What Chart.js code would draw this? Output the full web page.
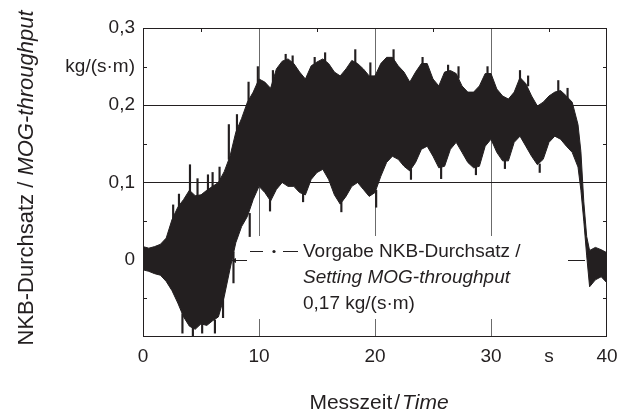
<!DOCTYPE html>
<html>
<head>
<meta charset="utf-8">
<script src="https://cdn.jsdelivr.net/npm/chart.js@4.4.0/dist/chart.umd.min.js"></script>
<style>
  html, body { margin: 0; padding: 0; background: #fff; }
  #wrap { width: 633px; height: 412px; }
</style>
</head>
<body>
<div id="wrap"><canvas id="flowChart"></canvas></div>
<script>
// Messzeit in s
var times = [0, 0.5, 1, 1.5, 2, 2.5, 3, 3.5, 4, 4.5, 5, 5.5, 6, 6.5, 7, 7.5, 8, 8.5, 9, 9.5,
  10, 10.5, 11, 11.5, 12, 12.5, 13, 13.5, 14, 14.5, 15, 15.5, 16, 16.5, 17, 17.5, 18, 18.5, 19, 19.5,
  20, 20.5, 21, 21.5, 22, 22.5, 23, 23.5, 24, 24.5, 25, 25.5, 26, 26.5, 27, 27.5, 28, 28.5, 29, 29.5,
  30, 30.5, 31, 31.5, 32, 32.5, 33, 33.5, 34, 34.5, 35, 35.5, 36, 36.5, 37, 37.5, 37.75, 38, 38.25, 38.5,
  39, 39.5, 40];
// upper / lower envelope of the noisy throughput signal, kg/(s·m)
var upper = [0.017, 0.015, 0.017, 0.020, 0.028, 0.052, 0.068, 0.078, 0.090, 0.083, 0.084, 0.090, 0.095, 0.100, 0.114, 0.134, 0.165, 0.183, 0.204, 0.217,
  0.234, 0.230, 0.222, 0.247, 0.257, 0.260, 0.254, 0.243, 0.234, 0.251, 0.256, 0.260, 0.254, 0.243, 0.238, 0.247, 0.258, 0.254, 0.247, 0.238,
  0.238, 0.254, 0.262, 0.262, 0.251, 0.243, 0.230, 0.243, 0.254, 0.254, 0.234, 0.225, 0.243, 0.245, 0.241, 0.225, 0.217, 0.217, 0.225, 0.241,
  0.241, 0.221, 0.212, 0.208, 0.217, 0.236, 0.228, 0.212, 0.199, 0.204, 0.212, 0.217, 0.219, 0.212, 0.204, 0.175, 0.140, 0.075, 0.030, 0.012,
  0.016, 0.013, 0.009];
var lower = [-0.013, -0.015, -0.018, -0.020, -0.028, -0.040, -0.056, -0.074, -0.086, -0.090, -0.083, -0.085, -0.079, -0.074, -0.048, -0.012, 0.022, 0.043, 0.056, 0.078,
  0.095, 0.087, 0.076, 0.091, 0.100, 0.095, 0.095, 0.087, 0.084, 0.104, 0.113, 0.117, 0.104, 0.084, 0.072, 0.082, 0.095, 0.100, 0.091, 0.082,
  0.087, 0.108, 0.126, 0.134, 0.130, 0.121, 0.115, 0.126, 0.143, 0.147, 0.134, 0.119, 0.121, 0.143, 0.152, 0.139, 0.126, 0.119, 0.121, 0.147,
  0.156, 0.139, 0.128, 0.128, 0.152, 0.160, 0.147, 0.134, 0.123, 0.130, 0.152, 0.160, 0.156, 0.147, 0.139, 0.120, 0.090, 0.050, 0.005, -0.035,
  -0.026, -0.022, -0.030];
// single noise spikes sticking out of the band
var spikeTimes = [2.6, 3.1, 4.05, 4.7, 5.6, 6.0, 6.6, 7.4, 8.1, 9.1, 9.9, 11.2, 12.3, 12.9, 14.8, 15.7, 18.3, 19.6, 21.6, 24.1,
  26.3, 27.2, 29.7, 32.5, 33.2, 35.8, 36.6,
  3.4, 4.3, 5.1, 6.2, 6.9, 7.8, 9.2, 10.95, 13.8, 17.1, 20.1, 23.1, 25.7, 28.7, 31.2, 34.2];
var spikeLow = [0.050, 0.060, 0.080, 0.075, 0.085, 0.090, 0.095, 0.130, 0.160, 0.200, 0.220, 0.220, 0.250, 0.250, 0.245, 0.250, 0.250, 0.235, 0.255, 0.245,
  0.240, 0.235, 0.235, 0.230, 0.225, 0.210, 0.205,
  -0.095, -0.100, -0.095, -0.095, -0.075, -0.030, 0.030, 0.063, 0.075, 0.062, 0.068, 0.104, 0.105, 0.110, 0.118, 0.113];
var spikeHigh = [0.071, 0.085, 0.123, 0.105, 0.110, 0.113, 0.120, 0.175, 0.188, 0.230, 0.250, 0.245, 0.266, 0.264, 0.262, 0.268, 0.272, 0.255, 0.272, 0.262,
  0.252, 0.250, 0.250, 0.245, 0.238, 0.232, 0.222,
  -0.070, -0.086, -0.080, -0.078, -0.040, 0.010, 0.060, 0.080, 0.090, 0.075, 0.090, 0.117, 0.122, 0.122, 0.130, 0.124];

var xTickValues = [0, 10, 20, 30, 35, 40];
var xTickText = ['0', '10', '20', '30', 's', '40'];
var yTickValues = [0, 0.1, 0.2, 0.25, 0.3];
var yTickText = ['0', '0,1', '0,2', 'kg/(s·m)', '0,3'];

var FONT = "'Liberation Sans', Arial, sans-serif";
var INK = '#231f20';

function pts(arr) {
  return times.map(function(t, i) { return { x: t, y: arr[i] }; });
}

var decor = {
  id: 'decor',
  beforeDatasetsDraw: function(chart) {
    var c = chart.ctx;
    // white box behind the annotation cuts the grid lines
    c.save();
    c.fillStyle = '#fff';
    c.fillRect(247, 236, 313, 83);
    c.restore();
  },
  afterDraw: function(chart) {
    var c = chart.ctx, a = chart.chartArea;
    var xs = chart.scales.x, ys = chart.scales.y;
    c.save();
    c.strokeStyle = INK;
    c.lineWidth = 1;
    // frame
    c.strokeRect(a.left + 0.5, a.top + 0.5, a.right - a.left - 1, a.bottom - a.top - 1);
    // inner minor ticks
    c.beginPath();
    [-0.05, 0.05, 0.15, 0.25].forEach(function(v) {
      var y = Math.round(ys.getPixelForValue(v)) + 0.5;
      c.moveTo(a.left, y); c.lineTo(a.left + 4, y);
      c.moveTo(a.right, y); c.lineTo(a.right - 4, y);
    });
    [5, 15, 25, 35].forEach(function(v) {
      var x = Math.round(xs.getPixelForValue(v)) + 0.5;
      c.moveTo(x, a.top); c.lineTo(x, a.top + 4);
    });
    c.stroke();

    // annotation
    var y0 = Math.round(ys.getPixelForValue(0)) + 0.5;
    c.beginPath();
    c.moveTo(231, y0); c.lineTo(247, y0);
    c.moveTo(568, y0); c.lineTo(585, y0);
    c.stroke();
    c.beginPath();
    c.moveTo(231, y0); c.lineTo(236, y0 - 2.5); c.lineTo(236, y0 + 2.5); c.closePath();
    c.fillStyle = INK;
    c.fill();
    // legend symbol — · —
    c.beginPath();
    c.moveTo(250, 251.5); c.lineTo(263, 251.5);
    c.moveTo(283, 251.5); c.lineTo(298, 251.5);
    c.stroke();
    c.beginPath();
    c.arc(274, 251.5, 1.6, 0, Math.PI * 2);
    c.fill();

    c.fillStyle = INK;
    c.textBaseline = 'middle';
    c.textAlign = 'left';
    c.font = '19px ' + FONT;
    c.fillText('Vorgabe NKB-Durchsatz /', 303, 252);
    c.font = 'italic 19px ' + FONT;
    c.fillText('Setting MOG-throughput', 303, 278);
    c.font = '19px ' + FONT;
    c.fillText('0,17 kg/(s·m)', 303, 304);

    // x title
    var p1 = 'Messzeit', p2 = '/', p3 = 'Time', gap = 2;
    c.font = '21px ' + FONT;
    var w1 = c.measureText(p1).width, w2 = c.measureText(p2).width;
    c.font = 'italic 21px ' + FONT;
    var w3 = c.measureText(p3).width;
    var sx = 379 - (w1 + w2 + w3 + 2 * gap) / 2;
    c.font = '21px ' + FONT;
    c.fillText(p1, sx, 403);
    c.fillText(p2, sx + w1 + gap, 403);
    c.font = 'italic 21px ' + FONT;
    c.fillText(p3, sx + w1 + w2 + 2 * gap, 403);

    // y title
    c.translate(27, 178);
    c.rotate(-Math.PI / 2);
    var q1 = 'NKB-Durchsatz / ', q2 = 'MOG-throughput';
    c.font = '22px ' + FONT;
    var v1 = c.measureText(q1).width;
    c.font = 'italic 22px ' + FONT;
    var v2 = c.measureText(q2).width;
    var sy = -(v1 + v2) / 2;
    c.font = '22px ' + FONT;
    c.fillText(q1, sy, 0);
    c.font = 'italic 22px ' + FONT;
    c.fillText(q2, sy + v1, 0);
    c.restore();
  }
};

new Chart(document.getElementById('flowChart'), {
  type: 'line',
  data: {
    datasets: [{
      data: pts(upper),
      borderColor: INK,
      backgroundColor: INK,
      borderWidth: 1,
      pointRadius: 0,
      fill: '+1'
    }, {
      data: pts(lower),
      borderColor: INK,
      backgroundColor: INK,
      borderWidth: 1,
      pointRadius: 0,
      fill: false
    }, {
      type: 'bar',
      data: spikeTimes.map(function(t, i) { return { x: t, y: [spikeLow[i], spikeHigh[i]] }; }),
      backgroundColor: INK,
      borderWidth: 0,
      barThickness: 1.5
    }]
  },
  options: {
    responsive: true,
    maintainAspectRatio: false,
    animation: false,
    layout: { padding: { top: 28, right: 26, left: 0, bottom: 0 } },
    plugins: { legend: { display: false }, tooltip: { enabled: false } },
    scales: {
      x: {
        type: 'linear',
        min: 0, max: 40,
        offset: false,
        afterBuildTicks: function(s) { s.ticks = xTickValues.map(function(v) { return { value: v }; }); },
        afterFit: function(s) { s.height = 75; },
        border: { display: false },
        grid: {
          offset: false,
          drawTicks: false,
          color: function(ctx) {
            var v = ctx.tick && ctx.tick.value;
            return (v === 10 || v === 20 || v === 30) ? '#6b6b6b' : 'rgba(0,0,0,0)';
          }
        },
        ticks: {
          padding: 8,
          maxRotation: 0,
          autoSkip: false,
          color: INK,
          font: { family: FONT, size: 19 },
          callback: function(v) { var i = xTickValues.indexOf(v); return i < 0 ? '' : xTickText[i]; }
        }
      },
      y: {
        min: -0.1, max: 0.3,
        afterBuildTicks: function(s) { s.ticks = yTickValues.map(function(v) { return { value: v }; }); },
        afterFit: function(s) { s.width = 143; },
        border: { display: false },
        grid: {
          drawTicks: false,
          color: function(ctx) {
            var v = ctx.tick && ctx.tick.value;
            return (v === 0.1 || v === 0.2) ? INK : 'rgba(0,0,0,0)';
          }
        },
        ticks: {
          padding: 8,
          autoSkip: false,
          color: INK,
          font: { family: FONT, size: 19 },
          callback: function(v) { var i = yTickValues.indexOf(v); return i < 0 ? '' : yTickText[i]; }
        }
      }
    }
  },
  plugins: [decor]
});
</script>
</body>
</html>
